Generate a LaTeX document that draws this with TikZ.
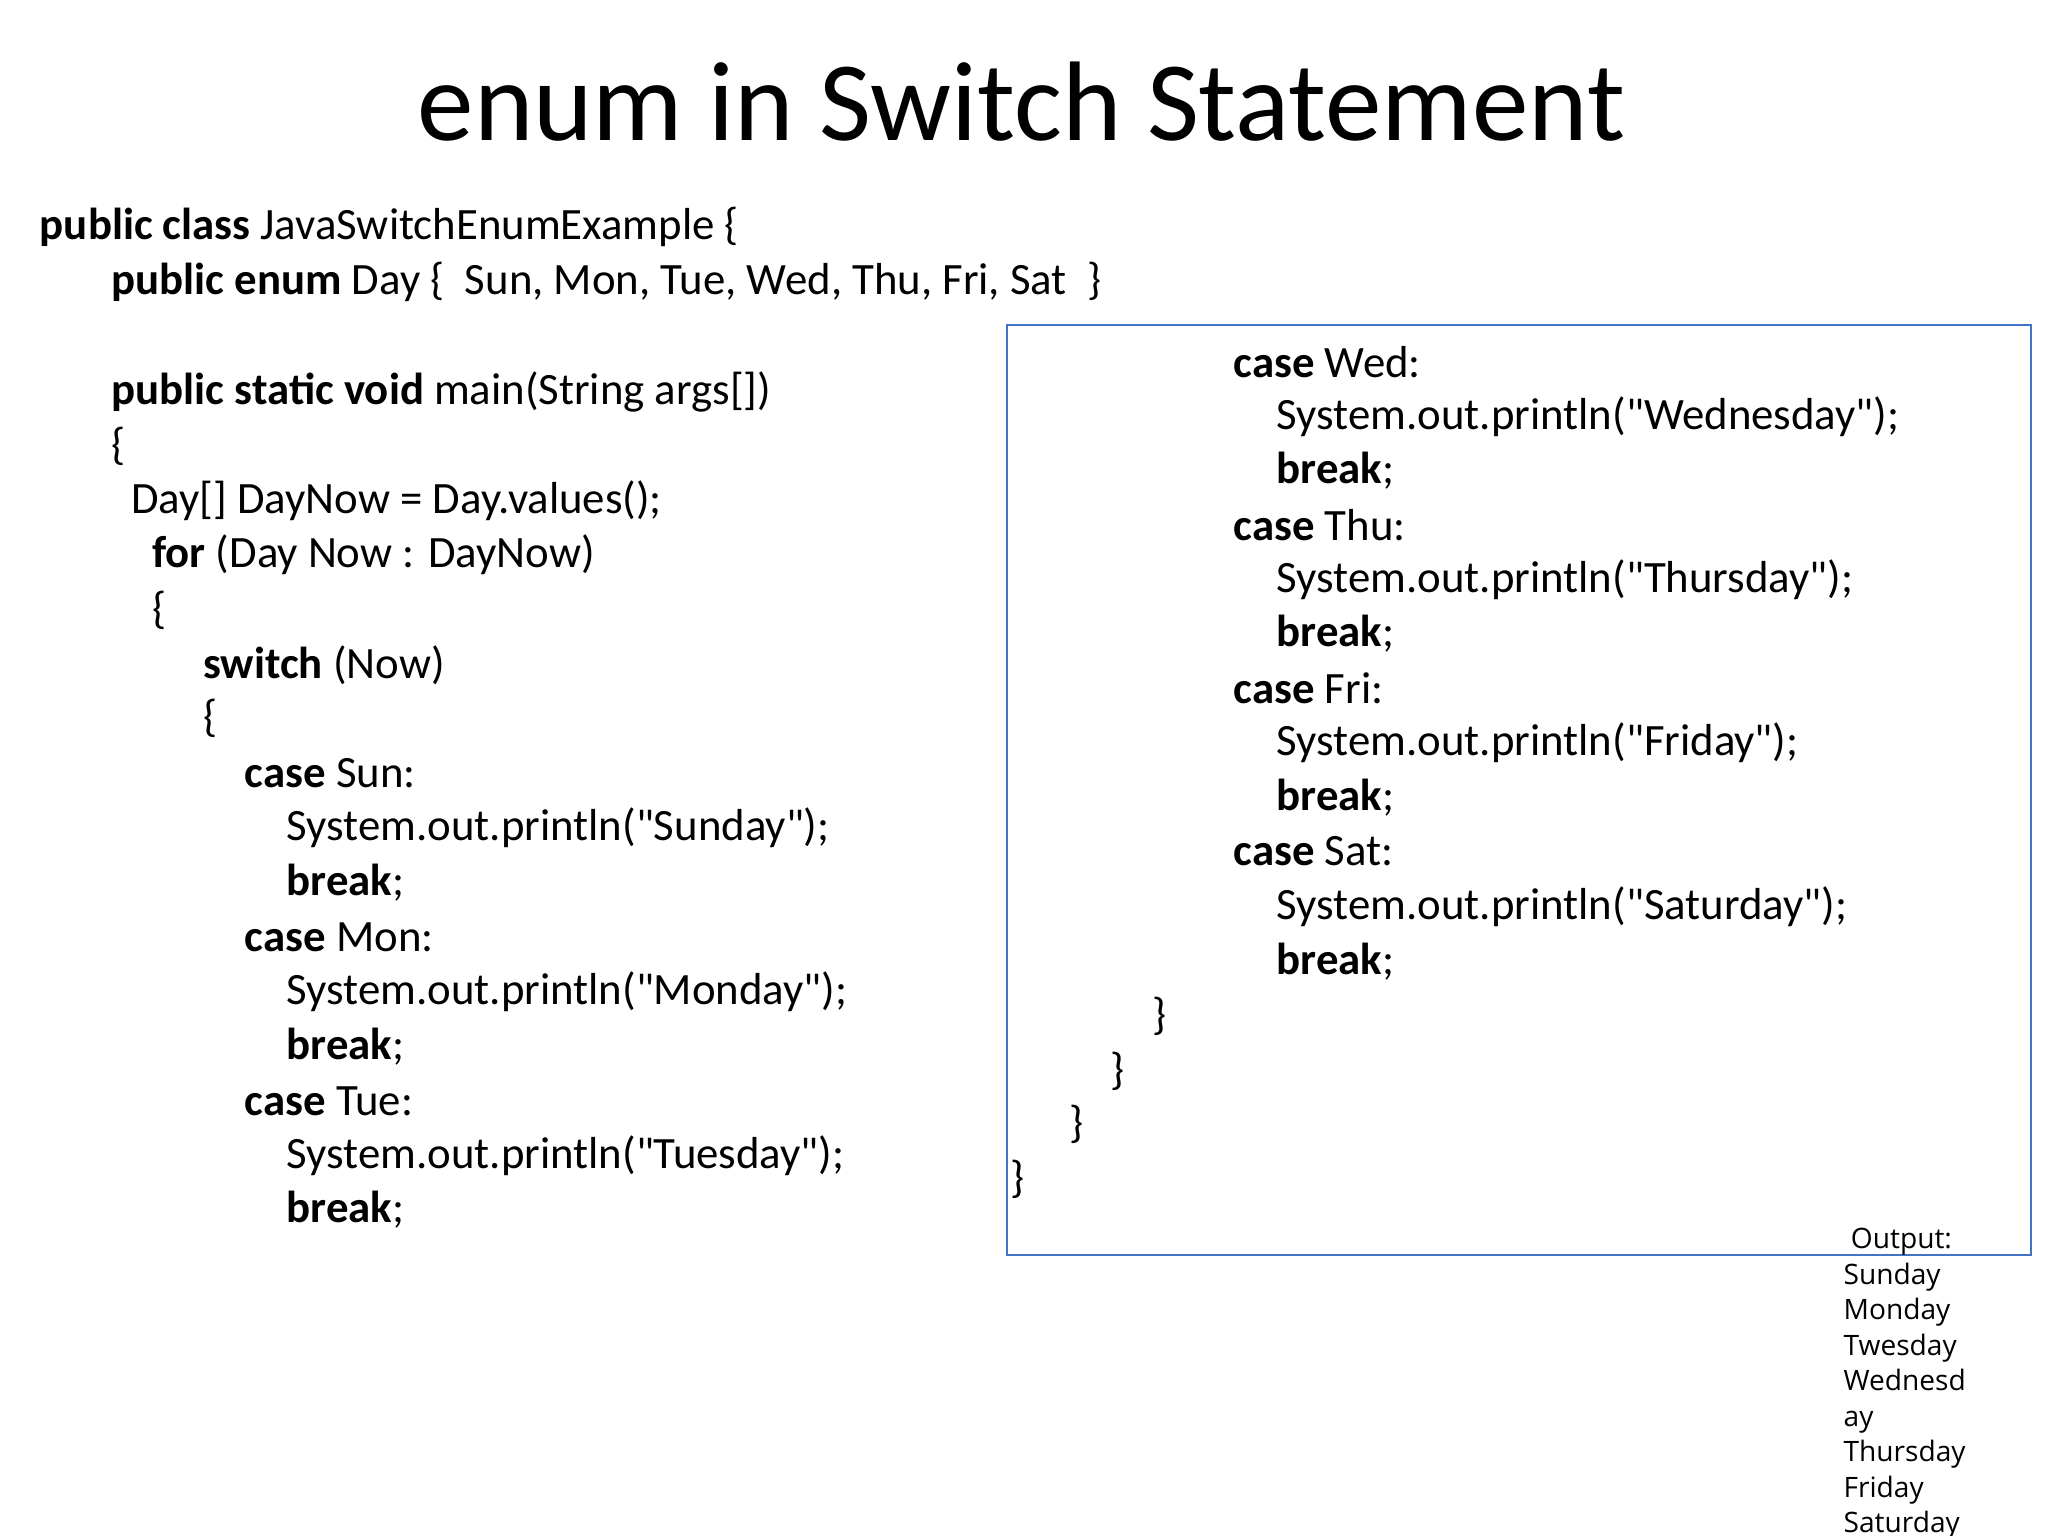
\documentclass[tikz,border=0pt]{standalone}
\usepackage{fontspec}
\setmainfont{Carlito}
\newfontfamily\outfont{Open Sans}
\definecolor{boxblue}{RGB}{68,114,196}
\newcommand{\qt}{\textquotedbl}
\tikzset{
	code/.style = {anchor = west, inner sep = 0pt, font = \fontsize{12.75}{15}\selectfont},
	outtext/.style = {anchor = north west, inner sep = 0pt, align = left, font = \outfont\fontsize{8}{10.1}\selectfont}
}
\begin{document}
\begin{tikzpicture}[x = 0.013061cm, y = -0.013061cm]

	% Page

	\useasboundingbox [fill = white] (0, 0) rectangle (1568, 1176);

	% Title

	\node (title) at (782, 78) {\fontsize{32.2}{38}\selectfont enum in Switch Statement};

	% Left column

	\node [code] (l1) at (30, 174) {\textbf{public class} JavaSwitchEnumExample \{};
	\node [code] (l2) at (85, 216) {\textbf{public enum} Day \{\ \ Sun, Mon, Tue, Wed, Thu, Fri, Sat\ \ \}};
	\node [code] (l3) at (85, 300) {\textbf{public static void} main(String args[])};
	\node [code] (l4) at (85, 342) {\{};
	\node [code] (l5) at (100, 383) {Day[] DayNow = Day.values();};
	\node [code] (l6) at (116, 425) {\textbf{for} (Day Now : DayNow)};
	\node [code] (l7) at (116, 467) {\{};
	\node [code] (l8) at (155, 509) {\textbf{switch} (Now)};
	\node [code] (l9) at (155, 550) {\{};
	\node [code] (l10) at (187, 592) {\textbf{case} Sun:};
	\node [code] (l11) at (219, 634) {System.out.println(\qt Sunday\qt);};
	\node [code] (l12) at (219, 676) {\textbf{break};};
	\node [code] (l13) at (187, 718) {\textbf{case} Mon:};
	\node [code] (l14) at (219, 759) {System.out.println(\qt Monday\qt);};
	\node [code] (l15) at (219, 801) {\textbf{break};};
	\node [code] (l16) at (187, 843) {\textbf{case} Tue:};
	\node [code] (l17) at (219, 885) {System.out.println(\qt Tuesday\qt);};
	\node [code] (l18) at (219, 926) {\textbf{break};};

	% Right column with frame

	\draw [boxblue, line width = 0.6pt] (771, 249) rectangle (1555, 961);

	\node [code] (r1) at (944, 277) {\textbf{case} Wed:};
	\node [code] (r2) at (977, 319) {System.out.println(\qt Wednesday\qt);};
	\node [code] (r3) at (977, 360) {\textbf{break};};
	\node [code] (r4) at (944, 402) {\textbf{case} Thu:};
	\node [code] (r5) at (977, 444) {System.out.println(\qt Thursday\qt);};
	\node [code] (r6) at (977, 485) {\textbf{break};};
	\node [code] (r7) at (944, 527) {\textbf{case} Fri:};
	\node [code] (r8) at (977, 569) {System.out.println(\qt Friday\qt);};
	\node [code] (r9) at (977, 611) {\textbf{break};};
	\node [code] (r10) at (944, 652) {\textbf{case} Sat:};
	\node [code] (r11) at (977, 694) {System.out.println(\qt Saturday\qt);};
	\node [code] (r12) at (977, 736) {\textbf{break};};
	\node [code] (r13) at (882, 778) {\}};
	\node [code] (r14) at (850, 820) {\}};
	\node [code] (r15) at (818, 861) {\}};
	\node [code] (r16) at (773, 903) {\}};

	% Output

	\node [outtext] (out) at (1411, 940) {\ Output:\\Sunday\\Monday\\Twesday\\Wednesd\\ay\\Thursday\\Friday\\Saturday};

\end{tikzpicture}
\end{document}
